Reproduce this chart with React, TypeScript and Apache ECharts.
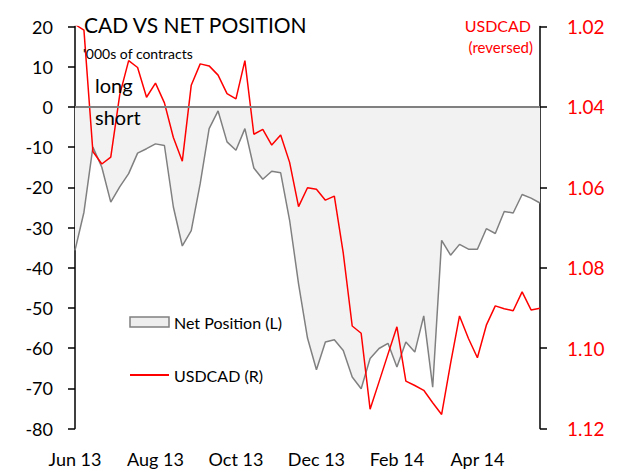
import React, { useEffect, useRef } from 'react';
import * as echarts from 'echarts';

const dates = [
  '2013-06-04', '2013-06-11', '2013-06-18', '2013-06-25',
  '2013-07-02', '2013-07-09', '2013-07-16', '2013-07-23', '2013-07-30',
  '2013-08-06', '2013-08-13', '2013-08-20', '2013-08-27',
  '2013-09-03', '2013-09-10', '2013-09-17', '2013-09-24',
  '2013-10-01', '2013-10-08', '2013-10-15', '2013-10-22', '2013-10-29',
  '2013-11-05', '2013-11-12', '2013-11-19', '2013-11-26',
  '2013-12-03', '2013-12-10', '2013-12-17', '2013-12-24', '2013-12-31',
  '2014-01-07', '2014-01-14', '2014-01-21', '2014-01-28',
  '2014-02-04', '2014-02-11', '2014-02-18', '2014-02-25',
  '2014-03-04', '2014-03-11', '2014-03-18', '2014-03-25',
  '2014-04-01', '2014-04-08', '2014-04-15', '2014-04-22', '2014-04-29',
  '2014-05-06', '2014-05-13', '2014-05-20', '2014-05-27', '2014-06-03',
];

const netPosition = [
  -35.7, -26.2, -10.0, -15.0, -23.7, -19.9, -16.6, -11.5, -10.4, -9.2,
  -9.6, -24.9, -34.6, -30.8, -19.1, -5.4, -1.0, -8.7, -10.8, -5.4,
  -15.2, -18.0, -16.0, -16.4, -28.2, -44.0, -57.5, -65.4, -58.5, -57.9,
  -60.6, -67.2, -70.1, -62.6, -60.1, -58.8, -64.7, -58.5, -61.0, -52.0,
  -69.7, -33.2, -36.9, -34.2, -35.4, -35.4, -30.3, -31.5, -26.0, -26.4,
  -21.8, -22.7, -23.9,
];

const usdcad = [
  1.0195, 1.0209, 1.0511, 1.0542, 1.0525, 1.037, 1.0285, 1.0302, 1.0376, 1.0341,
  1.039, 1.0476, 1.0535, 1.0346, 1.0293, 1.0298, 1.0321, 1.0367, 1.038, 1.0285,
  1.0468, 1.0456, 1.0495, 1.047, 1.0538, 1.0648, 1.0601, 1.0605, 1.0632, 1.0622,
  1.0764, 1.0945, 1.0963, 1.1152, 1.1084, 1.1015, 1.0947, 1.1082, 1.1093, 1.1105,
  1.1136, 1.1165, 1.1038, 1.092, 1.0976, 1.1024, 1.0943, 1.0895, 1.0902, 1.0907,
  1.086, 1.0905, 1.0901,
];

const monthNames = ['Jan', 'Feb', 'Mar', 'Apr', 'May', 'Jun', 'Jul', 'Aug', 'Sep', 'Oct', 'Nov', 'Dec'];

const FONT = 'Lato, "Open Sans", sans-serif';

export default function App() {
  const ref = useRef<HTMLDivElement>(null);

  useEffect(() => {
    document.body.style.margin = '0';
    if (!ref.current) return;
    const chart = echarts.init(ref.current, undefined, { renderer: 'svg' });

    const txt = (text: string, x: number, y: number, size: number, fill: string, align = 'left') => ({
      type: 'text',
      x,
      y,
      z: 100,
      zlevel: 0,
      style: { text, fontFamily: FONT, fontSize: size, fill, align, verticalAlign: 'middle' },
    });

    const option: any = {
      animation: false,
      backgroundColor: '#ffffff',
      grid: { left: 75, right: 81, top: 26.5, bottom: 46.5, containLabel: false },
      legend: {
        orient: 'vertical',
        left: 129,
        top: 314,
        padding: 0,
        itemWidth: 39,
        itemHeight: 10,
        itemGap: 37,
        selectedMode: false,
        textStyle: { fontFamily: FONT, fontSize: 16, color: '#000' },
        data: [
          {
            name: 'Net Position (L)',
            icon: 'rect',
            itemStyle: { color: '#eeeeee', borderColor: '#808080', borderWidth: 1.5 },
          },
          {
            name: 'USDCAD (R)',
            itemStyle: { color: 'rgba(0,0,0,0)', opacity: 0, borderWidth: 0 },
            lineStyle: { color: '#ff0000', width: 2 },
          },
        ],
      },
      xAxis: {
        type: 'category',
        data: dates,
        boundaryGap: false,
        axisLine: { show: false },
        axisTick: { show: false },
        splitLine: { show: false },
        axisLabel: {
          interval: 8,
          margin: 21,
          fontFamily: FONT,
          fontSize: 18,
          color: '#000',
          formatter: (v: string) => {
            const [y, m] = v.split('-');
            return monthNames[parseInt(m, 10) - 1] + ' ' + y.slice(2);
          },
        },
      },
      yAxis: [
        {
          type: 'value',
          min: -80,
          max: 20,
          interval: 10,
          position: 'left',
          axisLine: { show: true, lineStyle: { color: '#000', width: 1.5 } },
          axisTick: { show: true, length: 7, lineStyle: { color: '#000', width: 1.5 } },
          splitLine: { show: false },
          axisLabel: { margin: 22, fontFamily: FONT, fontSize: 18, color: '#000' },
        },
        {
          type: 'value',
          min: 1.02,
          max: 1.12,
          interval: 0.02,
          inverse: true,
          position: 'right',
          axisLine: { show: true, lineStyle: { color: '#000', width: 1.5 } },
          axisTick: { show: true, length: 7, lineStyle: { color: '#000', width: 1.5 } },
          splitLine: { show: false },
          axisLabel: {
            margin: 27,
            fontFamily: FONT,
            fontSize: 19,
            color: '#ff0000',
            formatter: (v: number) => v.toFixed(2),
          },
        },
      ],
      series: [
        {
          name: 'Net Position (L)',
          type: 'line',
          yAxisIndex: 0,
          data: netPosition,
          symbol: 'none',
          lineStyle: { color: '#808080', width: 1.5 },
          itemStyle: { color: '#808080' },
          areaStyle: { color: '#f2f2f2', opacity: 1 },
          markLine: {
            silent: true,
            symbol: 'none',
            label: { show: false },
            lineStyle: { color: '#808080', width: 2, type: 'solid' },
            data: [{ yAxis: 0 }],
          },
          z: 2,
        },
        {
          name: 'USDCAD (R)',
          type: 'line',
          yAxisIndex: 1,
          data: usdcad,
          symbol: 'none',
          clip: true,
          lineStyle: { color: '#ff0000', width: 1.5 },
          itemStyle: { color: '#ff0000' },
          z: 3,
        },
      ],
      graphic: [
        txt('CAD VS NET POSITION', 84, 24, 21, '#000'),
        txt("'000s of contracts", 83, 53, 14, '#000'),
        txt('long', 95, 85, 20, '#000'),
        txt('short', 95, 117, 20, '#000'),
        txt('USDCAD', 531, 25, 16, '#ff0000', 'right'),
        txt('(reversed)', 533, 47, 15, '#ff0000', 'right'),
      ],
    };

    chart.setOption(option);
    return () => chart.dispose();
  }, []);

  return <div ref={ref} style={{ width: 621, height: 475 }} />;
}
